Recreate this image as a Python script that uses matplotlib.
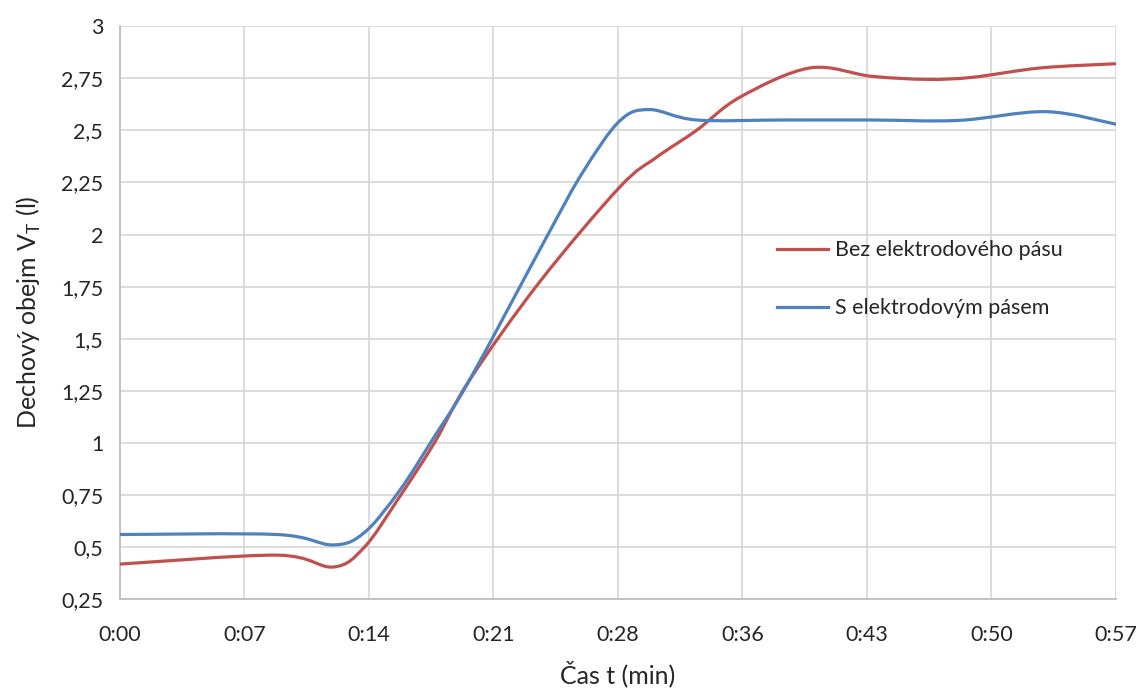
import matplotlib
matplotlib.use("Agg")
import matplotlib.pyplot as plt
from matplotlib.path import Path
from matplotlib.patches import PathPatch
from matplotlib.lines import Line2D
import numpy as np

# data (time in s, volume in l)
t_bez = [0, 9, 12.2, 14, 16, 18, 20, 24, 28.6, 30.7, 33, 35.5, 39.5, 43, 46.2, 48.8, 52.7, 57]
v_bez = [0.418, 0.461, 0.404, 0.50, 0.74, 1.0, 1.30, 1.77, 2.227, 2.37, 2.50, 2.66, 2.80,
         2.76, 2.745, 2.755, 2.80, 2.82]

t_s = [0, 9, 12.2, 14, 16, 18, 20, 24.5, 26.5, 28.6, 30.3, 33, 38, 43, 48, 53, 57]
v_s = [0.56, 0.56, 0.51, 0.57, 0.77, 1.03, 1.30, 2.0, 2.30, 2.545, 2.60, 2.55, 2.55, 2.55,
       2.548, 2.59, 2.53]

labels = ["Bez elektrodového pásu", "S elektrodovým pásem"]
colors = ["#C0504D", "#4F81BD"]

x_ticklabels = ["0:00", "0:07", "0:14", "0:21", "0:28", "0:36", "0:43", "0:50", "0:57"]
y_ticks = [0.25, 0.5, 0.75, 1, 1.25, 1.5, 1.75, 2, 2.25, 2.5, 2.75, 3]


def smooth_path(x, y):
    # excel-like smoothed line: cubic bezier through the points
    p = np.column_stack([x, y]).astype(float)
    ext = np.vstack([p[0], p, p[-1]])
    verts = [p[0]]
    codes = [Path.MOVETO]
    for i in range(len(p) - 1):
        p0, p1, p2, p3 = ext[i], ext[i + 1], ext[i + 2], ext[i + 3]
        c1 = p1 + (p2 - p0) / 6
        c2 = p2 - (p3 - p1) / 6
        verts += [c1, c2, p2]
        codes += [Path.CURVE4] * 3
    return Path(verts, codes)


plt.rcParams["font.family"] = ["Lato", "DejaVu Sans"]
fig = plt.figure(figsize=(11.42, 6.91), dpi=100)
ax = fig.add_axes([0.105, 0.133, 0.872, 0.829])

for x, y, c in [(t_bez, v_bez, colors[0]), (t_s, v_s, colors[1])]:
    ax.add_patch(PathPatch(smooth_path(x, y), facecolor="none", edgecolor=c, lw=2.3,
                           capstyle="round", zorder=3))

ax.set_xlim(0, 57)
ax.set_ylim(0.25, 3)
ax.set_xticks([i * 57 / 8 for i in range(9)])
ax.set_xticklabels(x_ticklabels)
ax.set_yticks(y_ticks)
ax.set_yticklabels([("%g" % v).replace(".", ",") for v in y_ticks])
ax.tick_params(length=0, labelsize=15.5, colors="#262626")
ax.tick_params(axis="x", pad=19)
ax.tick_params(axis="y", pad=12)
ax.grid(color="#d9d9d9", lw=1.3)
ax.set_axisbelow(True)
for s in ["top", "right"]:
    ax.spines[s].set_visible(False)
for s in ["left", "bottom"]:
    ax.spines[s].set_color("#bfbfbf")
    ax.spines[s].set_linewidth(1.3)

ax.set_xlabel("Čas t (min)", fontsize=18, color="#262626", labelpad=11)
ax.set_ylabel("Dechový obejm V$_\\mathregular{T}$ (l)", fontsize=18, color="#262626", labelpad=13)

handles = [Line2D([], [], color=c, lw=2.3) for c in colors]
ax.legend(handles, labels, loc="upper left", bbox_to_anchor=(0.64, 0.66), frameon=False,
          fontsize=15.5, labelspacing=1.75, handlelength=2.4, handletextpad=0.3,
          labelcolor="#262626")

fig.savefig("out.png", dpi=100)
